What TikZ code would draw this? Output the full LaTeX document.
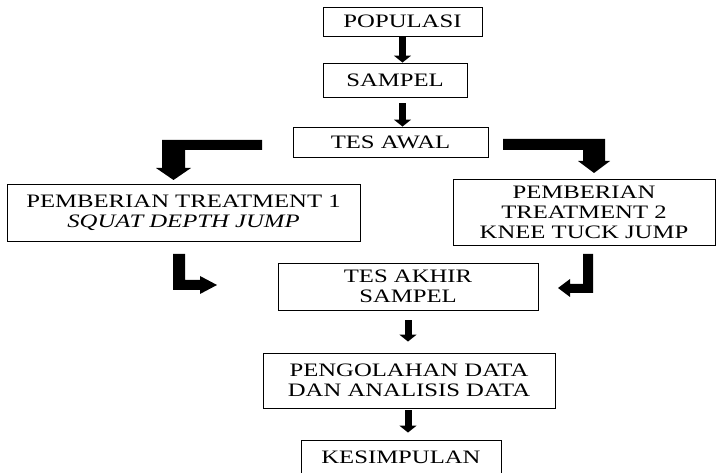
\documentclass[tikz,border=0pt]{standalone}
\usepackage{fontspec}
\setmainfont{Liberation Serif}[FakeStretch=1.3]
\usetikzlibrary{arrows.meta}
\tikzset {>=Stealth}
\tikzset{box/.style={draw,line width=0.9pt,inner sep=0pt,align=center,
    font=\fontsize{19}{20}\selectfont},
  down/.style={line width=7pt,-{Triangle[width=17pt,length=7pt]}}}

\begin{document}
\begin{tikzpicture}[x=1pt,y=-1pt]
\useasboundingbox (0,0) rectangle (716,473);

\node[box,minimum width=159,minimum height=29] (pop) at (402.5,21.5) {POPULASI};
\node[box,minimum width=144,minimum height=34] (sampel) at (395,80) {SAMPEL};
\node[box,minimum width=195,minimum height=30] (awal) at (390.5,142) {TES AWAL};
\node[box,minimum width=353,minimum height=57] (treat1) at (183.5,212.5)
  {PEMBERIAN TREATMENT 1\\ \textit{SQUAT DEPTH JUMP}};
\node[box,minimum width=262,minimum height=66] (treat2) at (584,212)
  {PEMBERIAN\\ TREATMENT 2\\ KNEE TUCK JUMP};
\node[box,minimum width=260,minimum height=47] (akhir) at (408,286.5)
  {TES AKHIR\\ SAMPEL};
\node[box,minimum width=292,minimum height=55] (olah) at (409,380.5)
  {PENGOLAHAN DATA\\ DAN ANALISIS DATA};
\node[box,minimum width=200,minimum height=34] (simpul) at (401,457) {KESIMPULAN};

% straight arrows
\draw[down] (pop.south) -- (pop.south |- sampel.north);
\draw[down,shorten <=6pt] (pop.south |- sampel.south) -- (pop.south |- awal.north);
\draw[down,shorten <=10pt,shorten >=11pt] (akhir.south) -- (akhir.south |- olah.north);
\draw[down,shorten <=2pt,shorten >=7pt] (olah.south -| akhir.south) -- (akhir.south |- simpul.north);

% elbow arrows
\coordinate (l1) at (262,140);
\coordinate (r1) at (503,139);
\coordinate (l2) at (173,254);
\coordinate (r2) at (593,254);
\fill (l1) -- ++(-100,0) -- ++(0,28) -- ++(-6,0) -- ++(17.5,12) -- ++(17.5,-12)
  -- ++(-6,0) -- ++(0,-18) -- ++(77,0) -- cycle;
\fill (r1) -- ++(102,0) -- ++(0,22) -- ++(5,0) -- ++(-16,12) -- ++(-16,-12)
  -- ++(5,0) -- ++(0,-11) -- ++(-80,0) -- cycle;
\fill (l2) -- ++(12,0) -- ++(0,26) -- ++(15,0) -- ++(0,-4) -- ++(17,9) -- ++(-17,9)
  -- ++(0,-4) -- ++(-27,0) -- cycle;
\fill (r2) -- ++(0,39) -- ++(-23,0) -- ++(0,4) -- ++(-12,-9) -- ++(12,-9)
  -- ++(0,5) -- ++(13,0) -- ++(0,-30) -- cycle;
\end{tikzpicture}
\end{document}
